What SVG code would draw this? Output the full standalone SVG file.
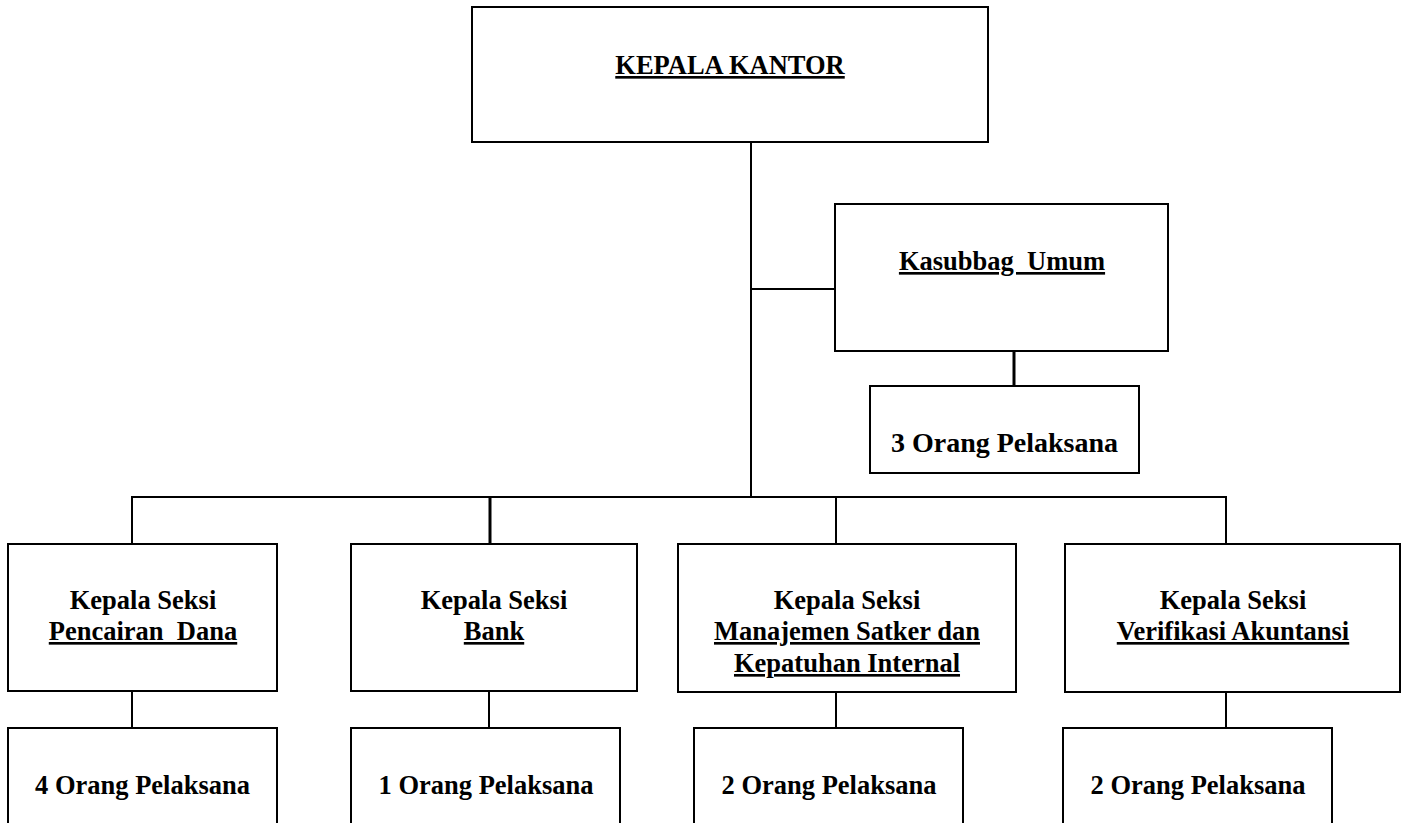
<svg xmlns="http://www.w3.org/2000/svg" width="1407" height="823" viewBox="0 0 1407 823">
<style>
  .box { fill: #ffffff; stroke: #000000; stroke-width: 2; }
  .ln { fill: none; stroke: #000000; stroke-width: 2; }
  .thk { stroke-width: 3; }
  text { font-family: "Liberation Serif", "Times New Roman", serif; font-weight: bold; font-size: 26.5px; fill: #000000; text-anchor: middle; white-space: pre; }
  .u { text-decoration: underline; }
  .big { font-size: 28px; }
</style>
<rect width="1407" height="823" fill="#ffffff"/>
<g id="connectors">
  <line class="ln" x1="751" y1="142" x2="751" y2="498"/>
  <line class="ln" x1="751" y1="289" x2="835" y2="289"/>
  <line class="ln thk" x1="1014" y1="348" x2="1014" y2="386"/>
  <line class="ln" x1="131" y1="497" x2="1227" y2="497"/>
  <line class="ln" x1="132" y1="497" x2="132" y2="544"/>
  <line class="ln thk" x1="490" y1="497" x2="490" y2="544"/>
  <line class="ln" x1="836" y1="497" x2="836" y2="544"/>
  <line class="ln" x1="1226" y1="497" x2="1226" y2="544"/>
  <line class="ln" x1="132" y1="691" x2="132" y2="728"/>
  <line class="ln" x1="489" y1="691" x2="489" y2="728"/>
  <line class="ln" x1="836" y1="692" x2="836" y2="728"/>
  <line class="ln" x1="1226" y1="692" x2="1226" y2="728"/>
</g>
<g id="kepala-kantor">
  <rect class="box" x="472" y="7" width="516" height="135"/>
  <text x="730" y="74" class="u">KEPALA KANTOR</text>
</g>
<g id="kasubbag-umum">
  <rect class="box" x="835" y="204" width="333" height="147"/>
  <text x="1002" y="270" class="u">Kasubbag  Umum</text>
</g>
<g id="pelaksana-umum">
  <rect class="box" x="870" y="386" width="269" height="87"/>
  <text x="1004.5" y="452" class="big">3 Orang Pelaksana</text>
</g>
<g id="seksi-pencairan-dana">
  <rect class="box" x="8" y="544" width="269" height="147"/>
  <text x="143" y="609">Kepala Seksi</text>
  <text x="143" y="640" class="u">Pencairan  Dana</text>
</g>
<g id="pelaksana-pencairan-dana">
  <rect class="box" x="8" y="728" width="269" height="110"/>
  <text x="142.5" y="794">4 Orang Pelaksana</text>
</g>
<g id="seksi-bank">
  <rect class="box" x="351" y="544" width="286" height="147"/>
  <text x="494" y="609">Kepala Seksi</text>
  <text x="494" y="640" class="u">Bank</text>
</g>
<g id="pelaksana-bank">
  <rect class="box" x="351" y="728" width="269" height="110"/>
  <text x="486" y="794">1 Orang Pelaksana</text>
</g>
<g id="seksi-manajemen-satker">
  <rect class="box" x="678" y="544" width="338" height="148"/>
  <text x="847" y="609">Kepala Seksi</text>
  <text x="847" y="640" class="u">Manajemen Satker dan</text>
  <text x="847" y="672" class="u">Kepatuhan Internal</text>
</g>
<g id="pelaksana-manajemen-satker">
  <rect class="box" x="694" y="728" width="269" height="110"/>
  <text x="829" y="794">2 Orang Pelaksana</text>
</g>
<g id="seksi-verifikasi-akuntansi">
  <rect class="box" x="1065" y="544" width="335" height="148"/>
  <text x="1233" y="609">Kepala Seksi</text>
  <text x="1233" y="640" class="u">Verifikasi Akuntansi</text>
</g>
<g id="pelaksana-verifikasi-akuntansi">
  <rect class="box" x="1063" y="728" width="269" height="110"/>
  <text x="1198" y="794">2 Orang Pelaksana</text>
</g>
</svg>
